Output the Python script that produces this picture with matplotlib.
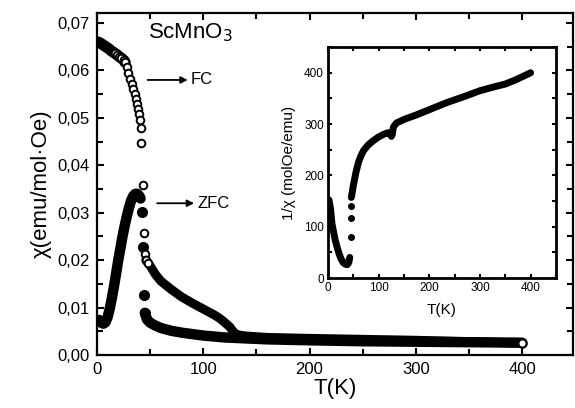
import numpy as np
import matplotlib
matplotlib.use("Agg")
import matplotlib.pyplot as plt
from matplotlib.ticker import MultipleLocator, FixedLocator, FixedFormatter

plt.rcParams['font.family'] = ['Liberation Sans', 'DejaVu Sans']

# ZFC susceptibility (filled circles)
zfc_T = np.array([2, 4, 6, 8, 10, 12, 14, 16, 18, 20, 22, 24, 26, 28, 30, 32, 34, 36, 38, 40, 41,
                  42, 43, 44, 45,
                  47, 50, 55, 60, 70, 80, 90, 100, 120, 140, 160, 200, 250, 300, 350, 400])
zfc_chi = np.array([0.0074, 0.0068, 0.0066, 0.0069, 0.0080, 0.0098, 0.0120, 0.0145, 0.0172, 0.0200,
                    0.0225, 0.0250, 0.0272, 0.0292, 0.0310, 0.0325, 0.0335, 0.0340, 0.0340, 0.0335, 0.0330,
                    0.0302, 0.0228, 0.0127, 0.0089,
                    0.0075, 0.0068, 0.0062, 0.0057, 0.0051, 0.0047, 0.0044, 0.0041, 0.0037, 0.0035,
                    0.0033, 0.0031, 0.0029, 0.0028, 0.0027, 0.0026])

# FC susceptibility (open circles)
fc_T = np.array([1, 3, 5, 7, 9, 11, 13, 15, 17, 19, 21, 23, 25, 26.5,
                 27.9, 29.5, 31, 32.6, 34.2, 35.8, 36.7, 38, 38.9, 39.8, 40.5, 41.1, 41.7,
                 43.3, 43.8, 44.8,
                 46, 48, 50, 55, 60, 70, 80, 90, 100, 110, 115, 120, 125, 128, 131,
                 140, 160, 200, 250, 300, 350, 400])
fc_chi = np.array([0.0660, 0.0658, 0.0655, 0.0652, 0.0649, 0.0646, 0.0642, 0.0639, 0.0636, 0.0633,
                   0.0629, 0.0626, 0.0622, 0.0617,
                   0.0608, 0.0594, 0.0582, 0.0571, 0.0561, 0.0551, 0.0539, 0.0530, 0.0518, 0.0508,
                   0.0496, 0.0478, 0.0447,
                   0.0359, 0.0257, 0.0213,
                   0.0200, 0.0194, 0.0188, 0.0170, 0.0156, 0.0138, 0.0122, 0.0109, 0.0097, 0.0085,
                   0.0078, 0.0069, 0.0059, 0.0050, 0.0043,
                   0.0040, 0.0037, 0.0035, 0.0033, 0.0031, 0.0028, 0.0025])

# inverse susceptibility for the inset
inv_T = np.array([2, 5, 8, 10, 14, 18, 22, 26, 30, 34, 38, 41, 43,
                  44.5, 45, 45.3,
                  46, 47, 50, 55, 60, 65, 70, 80, 90, 100, 110, 118, 122, 125, 127, 129, 135,
                  150, 175, 200, 235, 270, 300, 330, 350, 370, 400])
inv_chi = np.array([152, 135, 105, 95, 75, 60, 47, 37, 30, 27, 26, 30, 40,
                    79, 117, 140,
                    157, 162, 180, 205, 225, 238, 248, 260, 268, 275, 280, 283, 282, 276, 280, 294, 302,
                    309, 318, 328, 342, 354, 365, 373, 378, 386, 400])

ytick_vals = [0.00, 0.01, 0.02, 0.03, 0.04, 0.05, 0.06, 0.07]
ytick_labels = ['0,00', '0,01', '0,02', '0,03', '0,04', '0,05', '0,06', '0,07']

fig = plt.figure(figsize=(5.75, 4.08), dpi=100)
ax = fig.add_axes([0.1687, 0.1299, 0.828, 0.838])

band = dict(color='k', solid_capstyle='round', solid_joinstyle='round')
open_mk = dict(ls='none', marker='o', mfc='w', mec='k', ms=5.5, mew=1.4)

# ZFC: thick band plus filled markers where the points are isolated
low = zfc_T <= 41
jump = (zfc_T > 41) & (zfc_T < 46)
high = zfc_T >= 45
ax.plot(zfc_T[low], zfc_chi[low], lw=7.5, **band)
ax.plot(zfc_T[high], zfc_chi[high], lw=7.5, **band)
ax.plot(zfc_T[jump], zfc_chi[jump], 'o', color='k', ms=7)

# FC: dense band at low T, open circles in the drop, band above Tc
fc_low = fc_T <= 27
fc_mid = (fc_T > 27) & (fc_T < 46)
fc_high = fc_T >= 46
ax.plot(fc_T[fc_low], fc_chi[fc_low], lw=8, **band)
ax.plot(fc_T[fc_low][-6:], fc_chi[fc_low][-6:], **open_mk)
ax.plot(fc_T[fc_mid], fc_chi[fc_mid], **open_mk)
ax.plot(fc_T[fc_high], fc_chi[fc_high], lw=6.5, **band)
ax.plot(fc_T[fc_high][:2], fc_chi[fc_high][:2], **open_mk)
ax.plot(fc_T[-1], fc_chi[-1], 'o', mfc='w', mec='k', ms=6, mew=1.6)

ax.set_xlim(0, 448)
ax.set_ylim(0, 0.0721)
ax.xaxis.set_major_locator(MultipleLocator(100))
ax.xaxis.set_minor_locator(MultipleLocator(50))
ax.yaxis.set_major_locator(FixedLocator(ytick_vals))
ax.yaxis.set_major_formatter(FixedFormatter(ytick_labels))
ax.yaxis.set_minor_locator(MultipleLocator(0.005))
ax.tick_params(which='both', direction='in', top=True, right=True, width=1.5, labelsize=12)
ax.tick_params(which='major', length=5, pad=5)
ax.tick_params(which='minor', length=4)
for sp in ax.spines.values():
    sp.set_linewidth(1.6)

ax.set_xlabel('T(K)', fontsize=16, labelpad=1)
ax.set_ylabel('χ(emu/mol·Oe)', fontsize=16, labelpad=4)

ax.text(88, 0.0679, 'ScMnO$_3$', fontsize=16, ha='center', va='center')
ax.annotate('', xy=(88, 0.0580), xytext=(45, 0.0580),
            arrowprops=dict(arrowstyle='-|>', color='k', lw=1.3, mutation_scale=10))
ax.text(88.5, 0.0580, 'FC', fontsize=12, ha='left', va='center')
ax.annotate('', xy=(94, 0.0320), xytext=(54, 0.0320),
            arrowprops=dict(arrowstyle='-|>', color='k', lw=1.3, mutation_scale=10))
ax.text(94.5, 0.0320, 'ZFC', fontsize=12, ha='left', va='center')

# inset with 1/chi
ins = fig.add_axes([0.5704, 0.3186, 0.3965, 0.566])
i_low = inv_T <= 43
i_jump = (inv_T > 43) & (inv_T < 46)
i_high = inv_T >= 46
ins.plot(inv_T[i_low], inv_chi[i_low], lw=5, **band)
ins.plot(inv_T[i_high], inv_chi[i_high], lw=5, **band)
ins.plot(inv_T[i_jump], inv_chi[i_jump], 'o', color='k', ms=4)
ins.set_xlim(0, 450)
ins.set_ylim(0, 450)
ins.xaxis.set_major_locator(MultipleLocator(100))
ins.xaxis.set_minor_locator(MultipleLocator(50))
ins.yaxis.set_major_locator(MultipleLocator(100))
ins.yaxis.set_minor_locator(MultipleLocator(50))
ins.tick_params(which='both', direction='in', top=True, right=True, width=1.5,
                length=3, labelsize=8.5, pad=3)
for sp in ins.spines.values():
    sp.set_linewidth(2)
ins.set_xlabel('T(K)', fontsize=11, labelpad=6)
ins.set_ylabel('1/χ (molOe/emu)', fontsize=11, labelpad=6)

fig.savefig('out.png', dpi=100)
